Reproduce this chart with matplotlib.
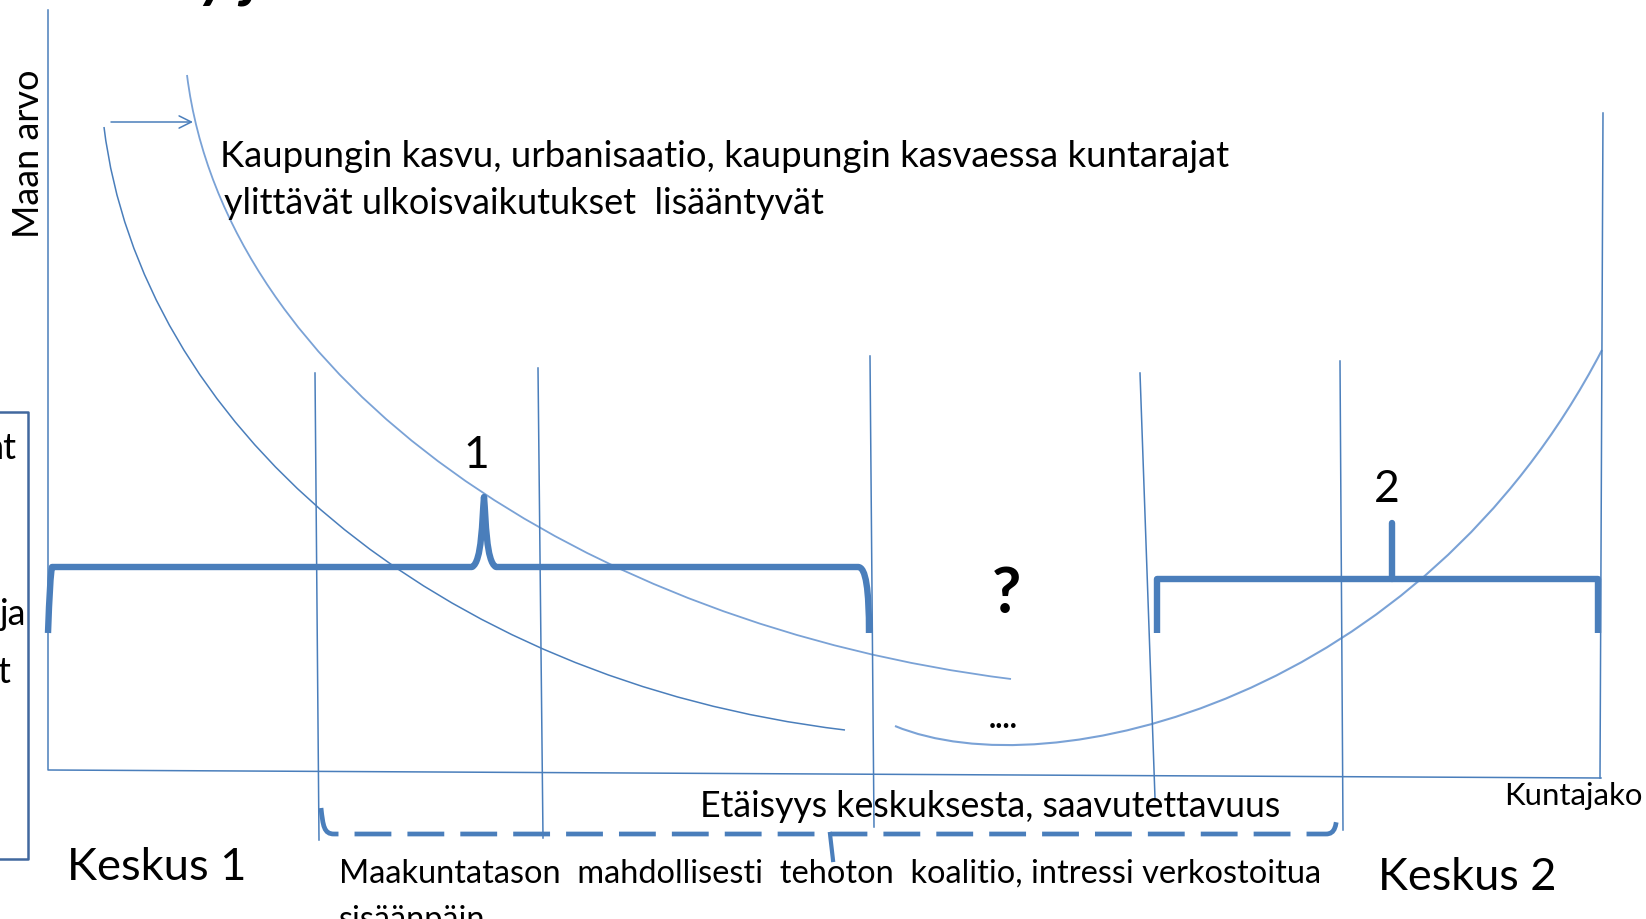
import matplotlib
matplotlib.use("Agg")
import matplotlib.pyplot as plt
from matplotlib.path import Path
from matplotlib.patches import PathPatch

plt.rcParams['font.family'] = ['Lato', 'DejaVu Sans']

W, H = 1646, 919

# diagram geometry, in image pixels (y grows downwards)
axis_x = [48, 48, 1601]
axis_y = [10, 770, 778]

# bezier control points of the land value curves
curve_a = [(104, 127), (140, 420), (430, 680), (845, 730)]
curve_b = [(187, 75), (225, 380), (580, 625), (1011, 679)]
curve_c = [(895, 726), (1050, 790), (1420, 700), (1602, 350)]

# municipal borders (top point, bottom point)
borders = [((315, 373), (319, 840)),
           ((538, 368), (543, 838)),
           ((870, 356), (874, 827)),
           ((1140, 373), (1155, 798)),
           ((1340, 361), (1343, 830)),
           ((1603, 113), (1600, 778))]

box_x = [0, 28, 28, 0]
box_y = [412, 412, 859, 859]

# bracket 1 (curly, peak at 1)
brace1 = [(48, 633), (50, 575), (52, 567), (62, 567),
          (472, 567), (482, 562), (482, 520), (484, 497),
          (486, 520), (486, 562), (496, 567),
          (858, 567), (866, 567), (869, 590), (869, 633)]
brace1_codes = [1, 3, 3, 3, 2, 4, 4, 4, 4, 4, 4, 2, 4, 4, 4]

brace2_x = [1157, 1157, 1598, 1598]
brace2_y = [633, 579, 579, 633]
tick2_x = [1392, 1392]
tick2_y = [579, 523]

# dashed bracket under the x axis
brace3 = [(321, 808), (323, 826), (324, 834), (334, 834),
          (1326, 834), (1335, 834), (1337, 826), (1337, 808)]
brace3_codes = [1, 4, 4, 4, 2, 4, 4, 4]
tick3_x = [830, 833]
tick3_y = [834, 860]

arrow_start = (111, 122)
arrow_end = (193, 122)

blue = '#4a7ebb'
light = '#7aa2d6'

fig = plt.figure(figsize=(W / 100, H / 100), dpi=100)
ax = fig.add_axes([0, 0, 1, 1])
ax.set_xlim(0, W)
ax.set_ylim(H, 0)
ax.axis('off')


def bezier(pts, color, lw):
    codes = [Path.MOVETO] + [Path.CURVE4] * 3
    ax.add_patch(PathPatch(Path(pts, codes), fc='none', ec=color, lw=lw))


ax.plot(axis_x, axis_y, color=blue, lw=1.1)
bezier(curve_a, blue, 1.1)
bezier(curve_b, light, 1.3)
bezier(curve_c, light, 1.5)

for (x0, y0), (x1, y1) in borders:
    ax.plot([x0, x1], [y0, y1], color=blue, lw=1.1)

ax.plot(box_x, box_y, color='#41689e', lw=1.8)

ax.add_patch(PathPatch(Path(brace1, brace1_codes), fc='none', ec=blue,
                       lw=4.6, capstyle='butt', joinstyle='round'))
ax.plot(brace2_x, brace2_y, color=blue, lw=4.6, solid_capstyle='butt')
ax.plot(tick2_x, tick2_y, color=blue, lw=4.6, solid_capstyle='round')

ax.add_patch(PathPatch(Path(brace3, brace3_codes), fc='none', ec=blue,
                       lw=3.4, ls=(0, (7.8, 3.4)), capstyle='butt'))
ax.plot(tick3_x, tick3_y, color=blue, lw=3.0)

ax.annotate('', xy=arrow_end, xytext=arrow_start,
            arrowprops=dict(arrowstyle='->', color=blue, lw=1.1,
                            mutation_scale=22, shrinkA=0, shrinkB=0))

fig.canvas.draw()
renderer = fig.canvas.get_renderer()


def fit(t, length, vertical=False):
    # scale the font so the text spans the same length as in the picture
    bb = t.get_window_extent(renderer)
    w = bb.height if vertical else bb.width
    t.set_fontsize(t.get_fontsize() * length / w)
    return t.get_fontsize()


fit(ax.text(29, 154, 'Maan arvo', rotation=90, ha='center', va='center', fontsize=26),
    168, vertical=True)
fit(ax.text(220, 167, 'Kaupungin kasvu, urbanisaatio, kaupungin kasvaessa kuntarajat',
            va='baseline', fontsize=24), 1011)
fit(ax.text(224, 214, 'ylittävät ulkoisvaikutukset  lisääntyvät', va='baseline', fontsize=24), 602)
fit(ax.text(700, 817, 'Etäisyys keskuksesta, saavutettavuus', va='baseline', fontsize=24), 583)
fit(ax.text(1504, 805, 'Kuntajako', va='baseline', fontsize=18), 138)
fs = fit(ax.text(339, 883, 'Maakuntatason  mahdollisesti  tehoton  koalitio, intressi verkostoitua',
                 va='baseline', fontsize=20), 981)
ax.text(339, 929, 'sisäänpäin', va='baseline', fontsize=fs)
fit(ax.text(67, 880, 'Keskus 1', va='baseline', fontsize=32), 180)
fit(ax.text(1378, 890, 'Keskus 2', va='baseline', fontsize=32), 179)

ax.text(476, 468, '1', ha='center', va='baseline', fontsize=32)
ax.text(1387, 502, '2', ha='center', va='baseline', fontsize=32)
ax.text(1007, 613, '?', ha='center', va='baseline', fontsize=46, fontweight='bold')
ax.text(1003, 728, '....', ha='center', va='baseline', fontsize=22, fontweight='bold')

ax.text(17, 459, 'nt', ha='right', va='baseline', fontsize=26)
ax.text(26, 625, 'ja', ha='right', va='baseline', fontsize=26)
ax.text(10, 683, 't', ha='right', va='baseline', fontsize=26)
ax.text(200, -4, 'y j', va='baseline', fontsize=44, fontweight='bold', fontstyle='italic')

fig.savefig('out.png', dpi=100)
